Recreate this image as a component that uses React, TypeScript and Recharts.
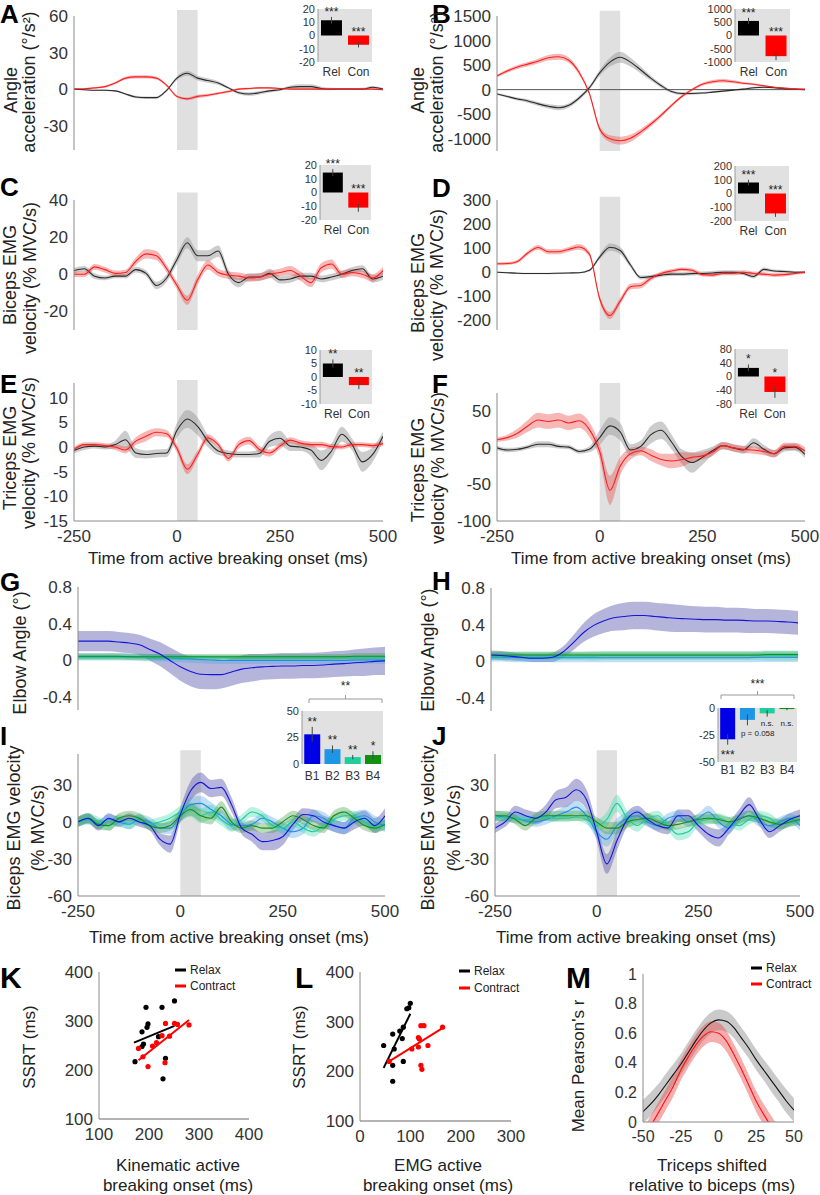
import React from 'react';
import {
  ComposedChart, BarChart, Bar, Line, Area, Scatter, XAxis, YAxis, CartesianGrid,
  ReferenceArea, ReferenceLine, ErrorBar, LabelList, Cell,
} from 'recharts';

const FONT = '"Liberation Sans", Arial, Helvetica, sans-serif';

// time base (ms) shared by panels A-J
const T = [-250, -225, -200, -175, -150, -125, -100, -75, -50, -25, 0, 25, 50, 75, 100, 125, 150, 175, 200, 225, 250, 275, 300, 325, 350, 375, 400, 425, 450, 475, 500];

// A: angle acceleration
const A_REL = [0, -0.5, -1, -1, -1.5, -4, -6.5, -7, -7, -1, 9, 13, 9, 7, 5, 1, -3, -4, -3, -1.5, -0.5, 1.5, 2, 2, 0.5, 0, 0, 0, 0, 1.5, 0];
const A_REL_SD = [0.5, 0.5, 0.5, 0.6, 0.6, 0.8, 1, 1, 1, 1, 1.5, 2, 2, 1.8, 1.5, 1.2, 1.2, 1.5, 1.5, 1.2, 1, 1.5, 2, 2, 1.5, 1, 0.8, 0.8, 1, 1, 0.8];
const A_CON = [0, 0.3, 1, 2, 5, 9, 10, 10, 9, 3, -6, -8, -6, -5, -3.5, -2, 0, 0.5, 1, 1, 0.5, 0, 0, 0, 0, 0, 0, 0, 0, 0, -0.5];
const A_CON_SD = [0.5, 0.5, 0.6, 0.8, 1, 1.2, 1.3, 1.3, 1.2, 1, 1, 1.2, 1.3, 1.2, 1, 1, 0.8, 0.8, 0.8, 0.8, 0.6, 0.6, 0.6, 0.6, 0.5, 0.5, 0.5, 0.5, 0.5, 0.5, 0.5];

// B
const B_REL = [-90, -140, -190, -230, -290, -340, -370, -320, -170, 40, 340, 560, 660, 560, 400, 230, 80, -40, -80, -80, -70, -50, -30, -10, 10, 40, 50, 40, 20, 10, 0];
const B_REL_SD = [20, 25, 30, 35, 40, 45, 50, 45, 40, 40, 60, 90, 110, 90, 70, 50, 40, 30, 30, 25, 20, 20, 20, 20, 20, 20, 20, 15, 15, 10, 10];
const B_CON = [280, 380, 460, 520, 580, 650, 670, 600, 350, -80, -800, -1000, -1040, -990, -860, -700, -520, -320, -140, 0, 110, 160, 180, 160, 130, 110, 80, 50, 30, 15, 10];
const B_CON_SD = [30, 35, 40, 45, 50, 55, 60, 55, 45, 40, 60, 70, 80, 75, 60, 50, 40, 35, 30, 30, 30, 35, 35, 30, 25, 20, 20, 15, 15, 10, 10];

// C
const C_REL = [2, 3, -1, -2, -1, -1, 2.5, 0.5, -6, -2, 8, 17, 10, 10, 12.5, 0, -4.5, -1.5, -1.5, 0.5, -3, -2.5, -1, -1, -2.5, -1.5, 0, 2, 3, -2.5, -1];
const C_REL_SD = [1.5, 1.5, 1.5, 1.2, 1.2, 1.2, 1.5, 1.5, 2, 2, 2.5, 3, 3, 3, 3, 2.5, 2.5, 2, 2, 2.5, 2, 2, 1.8, 1.8, 1.8, 1.8, 1.8, 1.8, 1.8, 2, 2];
const C_CON = [0, 0, 4, 2.5, 0.5, 1, 7, 11, 10, 3, -6, -14, -3, 5, 1, -0.5, -1, -2, -1.5, 0, 1, 2, -1, -4.5, 3.5, 5.5, 0, 1, 0, -2, 2];
const C_CON_SD = [1.5, 1.5, 1.5, 1.5, 1.5, 1.5, 2, 2.5, 2.5, 2, 2, 2.5, 2.5, 2.5, 2, 2, 2, 2, 2, 2, 2, 2.5, 2.5, 2.5, 2.5, 2.5, 2, 2, 2, 2, 2];

// D
const D_REL = [0, -2, -4, -5, -5, -5, -4, -3, -2, 8, 63, 104, 90, 30, -22, -18, -12, -8, -8, -6, -5, -3, 0, 0, -5, -18, 12, 5, 3, 0, 0];
const D_REL_SD = [3, 3, 3, 3, 3, 3, 3, 3, 3, 5, 10, 15, 15, 10, 8, 8, 8, 8, 8, 8, 8, 8, 8, 8, 8, 8, 8, 6, 6, 5, 5];
const D_CON = [35, 36, 45, 80, 103, 85, 85, 95, 105, 75, -110, -180, -120, -60, -55, -25, -5, 5, 12, 8, -10, -12, -5, -5, 0, -5, -8, -12, -10, -5, 0];
const D_CON_SD = [6, 6, 7, 8, 10, 10, 10, 10, 12, 10, 12, 15, 14, 12, 12, 10, 8, 8, 8, 8, 8, 8, 8, 8, 8, 8, 8, 8, 8, 6, 6];

// E
const E_REL = [-0.7, 0, 0.2, 0, 0.5, 1.5, -1.2, -1.5, -1.3, -1.2, 3.4, 5.7, 4.2, 1.2, -0.8, -1.3, -1.5, -1.5, -1.3, 1.2, 1.8, 0.2, 0, -0.6, -2.7, -0.8, 2.6, 0.5, -3, -1.5, 2.2];
const E_REL_SD = [0.6, 0.6, 0.5, 0.5, 0.8, 1.8, 1, 0.8, 0.8, 0.8, 1.5, 1.8, 1.8, 1.2, 0.8, 0.6, 0.6, 0.6, 0.8, 1.2, 1.5, 1, 0.8, 1.2, 2, 1.5, 1.5, 1.2, 2, 1.5, 1];
const E_CON = [-0.5, 0.5, 0.5, 0.3, 0, -0.6, 1.2, 2.2, 3, 2.7, -0.3, -4.5, -1.5, 1.9, 0.5, -2.3, 0.5, 1.3, -0.5, -1.2, 0.2, 1.4, 0.8, 0.5, 0.5, 0.1, 0, 0.5, 0.5, 0.3, 0.7];
const E_CON_SD = [0.5, 0.5, 0.5, 0.5, 0.6, 0.7, 0.8, 1, 0.8, 0.7, 0.8, 1, 0.8, 0.7, 0.6, 0.7, 0.8, 0.8, 0.7, 0.7, 0.6, 0.6, 0.6, 0.6, 0.6, 0.5, 0.5, 0.5, 0.5, 0.5, 0.5];

// F
const F_REL = [0, -3, -2, 1, 5, 5, 2, 1, -5, -2, 14, 30, 22, -3, 2, 18, 24, 8, -12, -20, -13, -4, 3, 0, -3, 7, -2, -8, 0, 1, -9];
const F_REL_SD = [3, 3, 3, 3, 4, 4, 3, 3, 3, 4, 10, 12, 12, 8, 8, 12, 12, 10, 10, 14, 10, 6, 5, 5, 5, 6, 6, 5, 5, 5, 5];
const F_CON = [11, 14, 20, 30, 38, 36, 38, 34, 37, 25, -5, -58, -25, -8, -4, -10, -16, -18, -16, -13, -11, -6, 3, 0, -2, -3, -5, -8, 2, 2, -4];
const F_CON_SD = [3, 4, 6, 8, 10, 10, 10, 10, 10, 10, 10, 20, 12, 8, 6, 8, 8, 10, 10, 6, 5, 5, 5, 5, 5, 5, 5, 5, 5, 5, 5];

// G: elbow angle per block (relax)
const G_B1 = [0.21, 0.21, 0.21, 0.21, 0.2, 0.19, 0.17, 0.12, 0.07, 0, -0.07, -0.12, -0.15, -0.155, -0.155, -0.125, -0.095, -0.08, -0.07, -0.065, -0.06, -0.06, -0.055, -0.055, -0.05, -0.04, -0.035, -0.025, -0.02, -0.01, -0.005];
const G_B1_SD = [0.11, 0.11, 0.11, 0.11, 0.11, 0.11, 0.11, 0.12, 0.13, 0.14, 0.15, 0.16, 0.16, 0.16, 0.15, 0.15, 0.15, 0.15, 0.14, 0.14, 0.14, 0.14, 0.14, 0.14, 0.14, 0.14, 0.14, 0.145, 0.15, 0.15, 0.155];
const G_B2 = [0.04, 0.04, 0.04, 0.04, 0.04, 0.04, 0.035, 0.03, 0.03, 0.025, 0.02, 0.015, 0.01, 0.005, 0, 0, 0, 0, 0, 0, 0, 0, 0, 0, 0, 0, 0, 0.005, 0.005, 0.005, 0.005];
const G_B2_SD = [0.04, 0.04, 0.04, 0.04, 0.04, 0.04, 0.04, 0.04, 0.04, 0.04, 0.04, 0.04, 0.04, 0.04, 0.04, 0.04, 0.04, 0.04, 0.04, 0.04, 0.04, 0.04, 0.04, 0.04, 0.04, 0.04, 0.04, 0.04, 0.04, 0.04, 0.04];
const G_B3 = [0.035, 0.035, 0.035, 0.035, 0.035, 0.035, 0.035, 0.03, 0.03, 0.03, 0.03, 0.03, 0.03, 0.03, 0.03, 0.03, 0.03, 0.03, 0.03, 0.03, 0.03, 0.03, 0.03, 0.03, 0.03, 0.03, 0.03, 0.03, 0.03, 0.03, 0.03];
const G_B3_SD = [0.03, 0.03, 0.03, 0.03, 0.03, 0.03, 0.03, 0.03, 0.03, 0.03, 0.03, 0.03, 0.03, 0.03, 0.03, 0.03, 0.03, 0.03, 0.03, 0.03, 0.03, 0.03, 0.03, 0.03, 0.03, 0.03, 0.03, 0.03, 0.03, 0.03, 0.03];
const G_B4 = [0.045, 0.045, 0.045, 0.045, 0.045, 0.04, 0.04, 0.04, 0.04, 0.04, 0.04, 0.04, 0.04, 0.04, 0.04, 0.04, 0.04, 0.04, 0.04, 0.04, 0.04, 0.04, 0.04, 0.04, 0.04, 0.04, 0.04, 0.045, 0.045, 0.045, 0.045];
const G_B4_SD = [0.03, 0.03, 0.03, 0.03, 0.03, 0.03, 0.03, 0.03, 0.03, 0.03, 0.03, 0.03, 0.03, 0.03, 0.03, 0.03, 0.03, 0.03, 0.03, 0.03, 0.03, 0.03, 0.03, 0.03, 0.03, 0.03, 0.03, 0.035, 0.035, 0.035, 0.035];

// H: elbow angle per block (contract)
const H_B1 = [0.07, 0.065, 0.055, 0.045, 0.035, 0.035, 0.045, 0.1, 0.2, 0.31, 0.39, 0.44, 0.475, 0.49, 0.5, 0.5, 0.49, 0.48, 0.47, 0.465, 0.46, 0.455, 0.455, 0.45, 0.45, 0.445, 0.44, 0.44, 0.435, 0.43, 0.42];
const H_B1_SD = [0.05, 0.05, 0.045, 0.04, 0.04, 0.04, 0.05, 0.06, 0.08, 0.1, 0.12, 0.13, 0.14, 0.15, 0.15, 0.15, 0.15, 0.15, 0.15, 0.145, 0.14, 0.14, 0.14, 0.135, 0.135, 0.135, 0.13, 0.13, 0.13, 0.13, 0.13];
const H_B2 = [0.05, 0.05, 0.045, 0.04, 0.04, 0.04, 0.04, 0.04, 0.04, 0.04, 0.04, 0.04, 0.04, 0.04, 0.04, 0.04, 0.04, 0.04, 0.04, 0.04, 0.04, 0.04, 0.04, 0.04, 0.04, 0.04, 0.045, 0.045, 0.045, 0.045, 0.045];
const H_B2_SD = [0.05, 0.05, 0.05, 0.05, 0.05, 0.05, 0.05, 0.05, 0.05, 0.05, 0.05, 0.05, 0.05, 0.05, 0.05, 0.05, 0.05, 0.05, 0.05, 0.05, 0.05, 0.05, 0.05, 0.05, 0.05, 0.05, 0.05, 0.05, 0.05, 0.05, 0.05];
const H_B3 = [0.06, 0.06, 0.06, 0.06, 0.06, 0.06, 0.06, 0.06, 0.06, 0.06, 0.06, 0.065, 0.065, 0.065, 0.065, 0.065, 0.065, 0.065, 0.065, 0.065, 0.065, 0.065, 0.065, 0.065, 0.065, 0.065, 0.065, 0.065, 0.065, 0.065, 0.065];
const H_B3_SD = [0.045, 0.045, 0.045, 0.045, 0.045, 0.045, 0.045, 0.045, 0.045, 0.045, 0.05, 0.05, 0.05, 0.05, 0.05, 0.05, 0.05, 0.05, 0.05, 0.05, 0.05, 0.05, 0.05, 0.05, 0.05, 0.05, 0.05, 0.055, 0.055, 0.055, 0.055];
const H_B4 = [0.07, 0.07, 0.07, 0.07, 0.07, 0.07, 0.07, 0.07, 0.07, 0.07, 0.07, 0.07, 0.07, 0.07, 0.07, 0.07, 0.07, 0.07, 0.07, 0.07, 0.07, 0.07, 0.07, 0.07, 0.07, 0.07, 0.07, 0.075, 0.075, 0.075, 0.075];
const H_B4_SD = [0.035, 0.035, 0.035, 0.035, 0.035, 0.035, 0.035, 0.035, 0.035, 0.035, 0.035, 0.035, 0.035, 0.035, 0.035, 0.035, 0.035, 0.035, 0.035, 0.035, 0.035, 0.035, 0.035, 0.035, 0.035, 0.035, 0.035, 0.035, 0.035, 0.035, 0.035];

// I: biceps EMG velocity per block (relax)
const I_B1 = [0, 3, -3, 3, 0, 3, 0, -3, -14, -18, 6, 25, 32, 27, 28, 14, -5, -10, -16, -15, -12, -2, 6, 5, 0, -3, -5, 0, 3, -3, 5];
const I_B1_SD = [4, 4, 4, 4, 4, 4, 4, 4, 5, 7, 6, 8, 8, 7, 7, 6, 5, 6, 7, 8, 7, 5, 5, 5, 5, 5, 5, 6, 6, 6, 6];
const I_B2 = [0, 2, -2, 2, 0, -2, 2, 0, -5, -5, 5, 14, 15, 10, 5, -2, -3, -2, 3, 0, -5, -8, -5, 5, 3, -3, -5, 3, 5, 0, -3];
const I_B2_SD = [4, 4, 4, 4, 4, 4, 4, 4, 4, 5, 5, 6, 6, 6, 5, 5, 4, 4, 4, 4, 5, 5, 5, 5, 5, 5, 5, 5, 5, 5, 5];
const I_B3 = [0, 3, 0, -3, 2, -2, 3, -2, 0, 3, 8, 10, 5, 8, 2, -3, 2, 8, 5, -3, -5, 0, -5, -8, -3, 2, 5, 5, 0, -4, -3];
const I_B3_SD = [4, 4, 4, 4, 4, 4, 4, 4, 4, 4, 5, 6, 6, 6, 5, 5, 4, 4, 4, 4, 4, 4, 4, 4, 4, 4, 4, 4, 4, 4, 4];
const I_B4 = [0, 3, -2, -3, 3, 5, 3, -3, -5, -3, 5, 10, 5, 3, 12, 0, -5, -3, -5, -5, 0, 5, 2, -3, -5, 5, 8, 3, -3, -5, -2];
const I_B4_SD = [4, 4, 4, 4, 4, 4, 4, 4, 4, 4, 5, 5, 5, 5, 5, 5, 4, 4, 4, 4, 4, 4, 4, 4, 4, 4, 4, 4, 4, 4, 4];

// J: biceps EMG velocity per block (contract)
const J_B1 = [-5, 0, 8, 5, 3, 8, 18, 20, 26, 18, -8, -34, -15, 2, 8, 2, -3, -5, 5, 5, -3, -10, -13, -5, 5, 14, 2, -8, -3, 2, 5];
const J_B1_SD = [4, 4, 5, 5, 5, 6, 7, 8, 9, 8, 7, 8, 8, 6, 5, 5, 5, 5, 5, 5, 5, 6, 7, 5, 5, 6, 5, 5, 5, 5, 5];
const J_B2 = [5, 4, 3, 1, 0, 2, 5, 8, 12, 5, -8, -14, -3, 3, 5, 0, -3, 3, 5, 0, 3, 8, 0, -5, 3, 5, 0, -3, 0, 3, -3];
const J_B2_SD = [4, 4, 4, 4, 4, 4, 4, 5, 5, 5, 5, 6, 6, 5, 5, 4, 4, 4, 4, 4, 4, 5, 5, 5, 4, 4, 4, 4, 4, 4, 4];
const J_B3 = [3, 4, 3, 2, 3, 4, 3, 3, 4, 2, -3, 2, 15, 3, -3, 3, 5, -3, -10, -8, 0, 2, 3, 0, -3, 2, 5, 3, -2, 0, 2];
const J_B3_SD = [3, 3, 3, 3, 3, 3, 3, 3, 3, 4, 5, 6, 7, 6, 5, 4, 4, 4, 5, 5, 4, 4, 4, 4, 4, 4, 4, 4, 4, 4, 4];
const J_B4 = [5, 5, 2, -3, 3, 5, 5, 5, 5, 5, 0, -5, -5, 0, 2, 3, 0, -3, -2, 0, 2, 3, 2, 0, 2, 5, 3, 0, -2, 0, 2];
const J_B4_SD = [4, 4, 4, 4, 4, 4, 4, 4, 4, 4, 4, 5, 5, 5, 4, 4, 4, 4, 4, 4, 4, 4, 4, 4, 4, 4, 4, 4, 4, 4, 4];

// insets
const RC_CATS = ['Rel', 'Con'];
const BLOCK_CATS = ['B1', 'B2', 'B3', 'B4'];
const INSET_A = [11.5, -7];
const INSET_A_ERR = [2.5, 2];
const INSET_B = [550, -780];
const INSET_B_ERR = [120, 150];
const INSET_C = [14.5, -11];
const INSET_C_ERR = [2.5, 3];
const INSET_D = [80, -145];
const INSET_D_ERR = [20, 25];
const INSET_E = [5, -3];
const INSET_E_ERR = [1.5, 1.5];
const INSET_F = [25, -45];
const INSET_F_ERR = [10, 17];
const INSET_G = [28, 14, 6.5, 8.5];
const INSET_G_ERR = [7, 3.5, 2, 3.5];
const INSET_H = [-29, -11, -5, -1];
const INSET_H_ERR = [5, 5, 3, 1];

// K, L: SSRT vs onset
const K_REL_X = [172, 194, 186, 189, 186, 198, 196, 226, 219, 233, 228, 251];
const K_REL_Y = [217, 328, 278, 253, 248, 294, 287, 328, 268, 224, 182, 341];
const K_CON_X = [179, 188, 198, 207, 215, 226, 232, 233, 241, 251, 257, 280];
const K_CON_Y = [244, 227, 207, 249, 256, 270, 215, 295, 269, 295, 293, 292];
const K_REL_FIT_X = [170, 251];
const K_REL_FIT_Y = [256, 290];
const K_CON_FIT_X = [179, 280];
const K_CON_FIT_Y = [220, 302];

const L_REL_X = [47, 65, 68, 65, 65, 79, 84, 86, 86, 93, 100, 97];
const L_REL_Y = [252, 275, 245, 212, 180, 281, 266, 220, 289, 326, 337, 328];
const L_CON_X = [58, 103, 116, 118, 121, 127, 116, 121, 123, 135, 164];
const L_CON_Y = [220, 245, 268, 265, 292, 292, 249, 212, 204, 252, 289];
const L_REL_FIT_X = [47, 100];
const L_REL_FIT_Y = [207, 316];
const L_CON_FIT_X = [58, 167];
const L_CON_FIT_Y = [220, 289];

// M: cross-correlation
const M_T = [-50, -45, -40, -35, -30, -25, -20, -15, -10, -5, 0, 5, 10, 15, 20, 25, 30, 35, 40, 45, 50];
const M_REL = [0.07, 0.12, 0.18, 0.25, 0.32, 0.39, 0.47, 0.55, 0.62, 0.67, 0.69, 0.68, 0.64, 0.57, 0.5, 0.42, 0.35, 0.28, 0.21, 0.14, 0.08];
const M_REL_SD = [0.08, 0.08, 0.075, 0.075, 0.07, 0.07, 0.07, 0.07, 0.07, 0.07, 0.07, 0.07, 0.07, 0.07, 0.07, 0.07, 0.07, 0.075, 0.075, 0.08, 0.08];
const M_CON = [-0.12, -0.03, 0.06, 0.15, 0.24, 0.35, 0.44, 0.52, 0.58, 0.61, 0.6, 0.55, 0.46, 0.36, 0.25, 0.14, 0.05, -0.03, -0.11, -0.19, -0.27];
const M_CON_SD = [0.07, 0.07, 0.07, 0.07, 0.07, 0.07, 0.07, 0.07, 0.07, 0.07, 0.07, 0.07, 0.07, 0.07, 0.07, 0.07, 0.07, 0.07, 0.07, 0.07, 0.07];

type Spec = { key: string; m: number[]; s: number[] };
type Series = { key: string; color: string; band: string; op: number };

function buildRows(xs: number[], specs: Spec[]) {
  return xs.map((t, i) => {
    const r: any = { t };
    specs.forEach(({ key, m, s }) => {
      r[key] = m[i];
      r[key + 'B'] = [m[i] - s[i], m[i] + s[i]];
    });
    return r;
  });
}

const RC_SERIES: Series[] = [
  { key: 'rel', color: '#2b2b2b', band: '#9a9a9a', op: 0.5 },
  { key: 'con', color: '#ff1f1f', band: '#e84a4a', op: 0.4 },
];
const BLOCK_SERIES: Series[] = [
  { key: 'b1', color: '#1414dc', band: '#5c5cb0', op: 0.45 },
  { key: 'b2', color: '#1e8fe6', band: '#4aa0e6', op: 0.35 },
  { key: 'b3', color: '#1ccc9c', band: '#3cd8a8', op: 0.35 },
  { key: 'b4', color: '#1a8c1a', band: '#3c9c3c', op: 0.35 },
];
const BLOCK_COLORS = ['#0000e6', '#1e96e6', '#1ecf9c', '#129012'];

const rc = (a: number[], as: number[], b: number[], bs: number[]) =>
  buildRows(T, [{ key: 'rel', m: a, s: as }, { key: 'con', m: b, s: bs }]);
const blocks = (m: number[][], s: number[][]) =>
  buildRows(T, m.map((mm, i) => ({ key: 'b' + (i + 1), m: mm, s: s[i] })));

interface TraceProps {
  left: number; right: number; top: number; bottom: number;
  yDomain: [number, number]; yTicks: number[];
  xDomain?: [number, number]; xTicks?: number[]; showX?: boolean;
  rows: any[]; series: Series[]; shadeTop?: number; zeroLine?: boolean; tickFont?: number;
}

function TracePanel(p: TraceProps) {
  const yw = 60, pt = 10, pr = 30, xh = 40;
  const w = p.right - p.left, h = p.bottom - p.top;
  const tf = p.tickFont ?? 17;
  const lineOrder = p.series.length > 2 ? [...p.series.slice(1), p.series[0]] : p.series;
  return (
    <div style={{ position: 'absolute', left: p.left - yw, top: p.top - pt }}>
      <ComposedChart width={yw + w + pr} height={pt + h + (p.showX ? xh : 2)} data={p.rows}
        margin={{ top: pt, right: pr, bottom: p.showX ? 0 : 2, left: 0 }}>
        <XAxis type="number" dataKey="t" domain={p.xDomain ?? [-250, 500]} ticks={p.xTicks ?? [-250, 0, 250, 500]}
          hide={!p.showX} height={xh} interval={0} allowDataOverflow axisLine={{ stroke: '#8a8a8a' }}
          tickLine={false} tickSize={0} tickMargin={9} tick={{ fontSize: tf, fill: '#333' }} />
        <YAxis type="number" domain={p.yDomain} ticks={p.yTicks} width={yw} interval={0} allowDataOverflow
          axisLine={{ stroke: '#8a8a8a' }} tickLine={false} tickSize={0} tickMargin={6} tick={{ fontSize: tf, fill: '#333' }} />
        {p.shadeTop !== undefined && (
          <ReferenceArea x1={0} x2={50} y1={p.yDomain[0]} y2={p.shadeTop} ifOverflow="visible"
            fill="#e0e0e0" fillOpacity={1} stroke="none" />
        )}
        {p.zeroLine && <ReferenceLine y={0} stroke="#555" strokeWidth={1} />}
        {p.series.map((s) => (
          <Area key={s.key + 'B'} type="monotone" dataKey={s.key + 'B'} stroke="none" fill={s.band}
            fillOpacity={s.op} isAnimationActive={false} activeDot={false} />
        ))}
        {lineOrder.map((s) => (
          <Line key={s.key} type="monotone" dataKey={s.key} stroke={s.color} strokeWidth={1.1}
            dot={false} activeDot={false} isAnimationActive={false} />
        ))}
      </ComposedChart>
    </div>
  );
}

interface InsetProps {
  left: number; right: number; top: number; bottom: number;
  cats: string[]; vals: number[]; errs: number[]; marks: string[]; colors: string[];
  domain: [number, number]; ticks: number[]; mode?: 'above' | 'below';
  markDy?: number[]; markSize?: number[]; markStart?: boolean[]; tickGap?: number;
}

function Inset(p: InsetProps) {
  const padL = 34, padT = 16, padB = 22;
  const w = p.right - p.left, h = p.bottom - p.top;
  const rows = p.cats.map((k, i) => ({ k, v: p.vals[i], e: p.errs[i], m: p.marks[i], i }));
  const yPix = (v: number) => padT + ((p.domain[1] - v) / (p.domain[1] - p.domain[0])) * h;
  const renderMark = (lp: any) => {
    const r = rows.find((d) => d.k === lp.value);
    if (!r || !r.m) return null;
    const start = p.markStart ? p.markStart[r.i] : false;
    const cx = start ? Number(lp.x) + 1 : Number(lp.x) + Number(lp.width) / 2;
    const size = p.markSize ? p.markSize[r.i] : 12;
    let y: number;
    if (p.mode === 'below') {
      y = yPix(r.v - r.e) + (p.markDy ? p.markDy[r.i] : 10);
    } else {
      y = r.v >= 0 ? yPix(r.v + r.e) - 1 : yPix(0);
    }
    return (
      <text key={r.k} x={cx} y={y} textAnchor={start ? 'start' : 'middle'} fontSize={size} fill="#222">{r.m}</text>
    );
  };
  return (
    <div style={{ position: 'absolute', left: p.left - padL, top: p.top - padT }}>
      <BarChart width={padL + w + 2} height={padT + h + padB} data={rows}
        margin={{ top: padT, right: 2, bottom: 0, left: 0 }} barCategoryGap="11%">
        <CartesianGrid fill="#e1e1e1" stroke="none" horizontal={false} vertical={false} />
        <XAxis dataKey="k" height={padB} axisLine={false} tickLine={false} tickSize={0}
          tickMargin={p.tickGap ?? 5} interval={0} tick={{ fontSize: 12, fill: '#333' }} />
        <YAxis type="number" domain={p.domain} ticks={p.ticks} width={padL} interval={0}
          axisLine={{ stroke: '#9a9a9a' }} tickLine={false} tickSize={0} tickMargin={3}
          tick={{ fontSize: 11, fill: '#333' }} />
        <Bar dataKey="v" isAnimationActive={false}>
          {rows.map((r, i) => <Cell key={r.k} fill={p.colors[i]} />)}
          <ErrorBar dataKey="e" width={0} stroke="#444" strokeWidth={1} direction="y" />
          <LabelList dataKey="k" content={renderMark} />
        </Bar>
      </BarChart>
    </div>
  );
}

const toPts = (xs: number[], ys: number[]) => xs.map((x, i) => ({ x, y: ys[i] }));

interface ScatterProps {
  left: number; right: number; top: number; bottom: number;
  xDomain: [number, number]; xTicks: number[];
  relX: number[]; relY: number[]; conX: number[]; conY: number[];
  relFitX: number[]; relFitY: number[]; conFitX: number[]; conFitY: number[];
}

function ScatterPanel(p: ScatterProps) {
  const yw = 60, pt = 10, pr = 25, xh = 40;
  const w = p.right - p.left, h = p.bottom - p.top;
  const dot = (c: string) => (sp: any) => <circle cx={sp.cx} cy={sp.cy} r={2.6} fill={c} />;
  return (
    <div style={{ position: 'absolute', left: p.left - yw, top: p.top - pt }}>
      <ComposedChart width={yw + w + pr} height={pt + h + xh} margin={{ top: pt, right: pr, bottom: 0, left: 0 }}>
        <XAxis type="number" dataKey="x" domain={p.xDomain} ticks={p.xTicks} interval={0} height={xh}
          axisLine={{ stroke: '#9a9a9a', strokeWidth: 1.5 }} tickLine={false} tickSize={0} tickMargin={9}
          tick={{ fontSize: 17, fill: '#333' }} />
        <YAxis type="number" dataKey="y" domain={[100, 400]} ticks={[100, 200, 300, 400]} width={yw} interval={0}
          axisLine={{ stroke: '#8a8a8a' }} tickLine={false} tickSize={0} tickMargin={6}
          tick={{ fontSize: 17, fill: '#333' }} />
        <Scatter data={toPts(p.relX, p.relY)} shape={dot('#000')} isAnimationActive={false} />
        <Scatter data={toPts(p.conX, p.conY)} shape={dot('#ff0000')} isAnimationActive={false} />
        <Line data={toPts(p.relFitX, p.relFitY)} dataKey="y" stroke="#000" strokeWidth={2}
          dot={false} activeDot={false} isAnimationActive={false} />
        <Line data={toPts(p.conFitX, p.conFitY)} dataKey="y" stroke="#ff0000" strokeWidth={2}
          dot={false} activeDot={false} isAnimationActive={false} />
      </ComposedChart>
    </div>
  );
}

const VL = ({ x, y, s, size = 18 }: { x: number; y: number; s: string; size?: number }) => (
  <text x={x} y={y} transform={`rotate(-90 ${x} ${y})`} textAnchor="middle" dominantBaseline="central"
    fontSize={size} fill="#222">{s}</text>
);
const HL = ({ x, y, s, size = 17 }: { x: number; y: number; s: string; size?: number }) => (
  <text x={x} y={y} textAnchor="middle" dominantBaseline="central" fontSize={size} fill="#222">{s}</text>
);
const Letter = ({ x, y, s, size = 26 }: { x: number; y: number; s: string; size?: number }) => (
  <text x={x} y={y} fontSize={size} fontWeight="bold" fill="#000">{s}</text>
);
const Legend2 = ({ x, y1, y2 }: { x: number; y1: number; y2: number }) => (
  <g>
    <line x1={x} x2={x + 11} y1={y1} y2={y1} stroke="#000" strokeWidth={3} />
    <text x={x + 15} y={y1} dominantBaseline="central" fontSize={12} fill="#222">Relax</text>
    <line x1={x} x2={x + 11} y1={y2} y2={y2} stroke="#ff0000" strokeWidth={3} />
    <text x={x + 15} y={y2} dominantBaseline="central" fontSize={12} fill="#222">Contract</text>
  </g>
);

function Overlay() {
  return (
    <svg width={820} height={1195} style={{ position: 'absolute', left: 0, top: 0, pointerEvents: 'none' }}>
      <Letter x={0} y={23} s="A" />
      <Letter x={432} y={23} s="B" />
      <Letter x={0} y={196} s="C" />
      <Letter x={432} y={197} s="D" />
      <Letter x={0} y={393} s="E" />
      <Letter x={432} y={393} s="F" />
      <Letter x={0} y={591} s="G" />
      <Letter x={432} y={590} s="H" />
      <Letter x={0} y={745} s="I" />
      <Letter x={432} y={745} s="J" />
      <Letter x={0} y={988} s="K" size={30} />
      <Letter x={295} y={988} s="L" size={30} />
      <Letter x={566} y={988} s="M" size={30} />

      <VL x={11} y={90} s="Angle" />
      <VL x={29} y={82} s="acceleration (°/s²)" />
      <VL x={418} y={90} s="Angle" />
      <VL x={437} y={82} s="acceleration (°/s²)" />
      <VL x={10} y={275} s="Biceps EMG" />
      <VL x={30} y={278} s="velocity (% MVC/s)" />
      <VL x={418} y={283} s="Biceps EMG" />
      <VL x={437} y={285} s="velocity (% MVC/s)" />
      <VL x={10} y={458} s="Triceps EMG" />
      <VL x={29} y={453} s="velocity (% MVC/s)" />
      <VL x={418} y={470} s="Triceps EMG" />
      <VL x={438} y={468} s="velocity (% MVC/s)" />
      <VL x={20} y={653} s="Elbow Angle (°)" />
      <VL x={428} y={650} s="Elbow Angle (°)" />
      <VL x={14} y={828} s="Biceps EMG velocity" />
      <VL x={38} y={828} s="(% MVC/s)" />
      <VL x={428} y={828} s="Biceps EMG velocity" />
      <VL x={454} y={828} s="(% MVC/s)" />
      <VL x={29} y={1047} s="SSRT (ms)" size={17} />
      <VL x={299} y={1047} s="SSRT (ms)" size={17} />
      <VL x={578} y={1066} s="Mean Pearson's r" size={17} />

      <HL x={228} y={558} s="Time from active breaking onset (ms)" />
      <HL x={651} y={558} s="Time from active breaking onset (ms)" />
      <HL x={229} y={937} s="Time from active breaking onset (ms)" />
      <HL x={636} y={937} s="Time from active breaking onset (ms)" />
      <HL x={178} y={1165} s="Kinematic active" />
      <HL x={178} y={1185} s="breaking onset (ms)" />
      <HL x={438} y={1165} s="EMG active" />
      <HL x={438} y={1185} s="breaking onset (ms)" />
      <HL x={712} y={1165} s="Triceps shifted" />
      <HL x={712} y={1185} s="relative to biceps (ms)" />

      <Legend2 x={175} y1={970} y2={986} />
      <Legend2 x={459} y1={971} y2={988} />
      <Legend2 x={751} y1={968} y2={984} />

      <path d="M309 703 V699 H382 V703 M345.5 699 V695" stroke="#999" fill="none" strokeWidth={1} />
      <text x={345.5} y={690} textAnchor="middle" fontSize={12} fill="#222">**</text>
      <path d="M721 699 V695 H794 V699 M757.5 695 V691" stroke="#999" fill="none" strokeWidth={1} />
      <text x={757.5} y={688} textAnchor="middle" fontSize={12} fill="#222">***</text>
    </svg>
  );
}

export default function App() {
  const rowsA = rc(A_REL, A_REL_SD, A_CON, A_CON_SD);
  const rowsB = rc(B_REL, B_REL_SD, B_CON, B_CON_SD);
  const rowsC = rc(C_REL, C_REL_SD, C_CON, C_CON_SD);
  const rowsD = rc(D_REL, D_REL_SD, D_CON, D_CON_SD);
  const rowsE = rc(E_REL, E_REL_SD, E_CON, E_CON_SD);
  const rowsF = rc(F_REL, F_REL_SD, F_CON, F_CON_SD);
  const rowsG = blocks([G_B1, G_B2, G_B3, G_B4], [G_B1_SD, G_B2_SD, G_B3_SD, G_B4_SD]);
  const rowsH = blocks([H_B1, H_B2, H_B3, H_B4], [H_B1_SD, H_B2_SD, H_B3_SD, H_B4_SD]);
  const rowsI = blocks([I_B1, I_B2, I_B3, I_B4], [I_B1_SD, I_B2_SD, I_B3_SD, I_B4_SD]);
  const rowsJ = blocks([J_B1, J_B2, J_B3, J_B4], [J_B1_SD, J_B2_SD, J_B3_SD, J_B4_SD]);
  const rowsM = buildRows(M_T, [{ key: 'rel', m: M_REL, s: M_REL_SD }, { key: 'con', m: M_CON, s: M_CON_SD }]);
  const rcColors = ['#000000', '#ff0000'];

  return (
    <div style={{ position: 'absolute', left: 0, top: 0, width: 820, height: 1195, background: '#fff', overflow: 'hidden', fontFamily: FONT }}>
      <TracePanel left={74} right={383} top={16} bottom={150} yDomain={[-50, 60]} yTicks={[-30, 0, 30, 60]} rows={rowsA} series={RC_SERIES} shadeTop={65} />
      <TracePanel left={497} right={805} top={16} bottom={151} yDomain={[-1250, 1500]} yTicks={[-1000, -500, 0, 500, 1000, 1500]} rows={rowsB} series={RC_SERIES} shadeTop={1608} zeroLine />
      <TracePanel left={74} right={383} top={200} bottom={330} yDomain={[-30, 40]} yTicks={[-20, 0, 20, 40]} rows={rowsC} series={RC_SERIES} shadeTop={44} />
      <TracePanel left={497} right={805} top={200} bottom={330} yDomain={[-240, 300]} yTicks={[-200, -100, 0, 100, 200, 300]} rows={rowsD} series={RC_SERIES} shadeTop={314} />
      <TracePanel left={74} right={383} top={383} bottom={521} yDomain={[-15, 13]} yTicks={[-15, -10, -5, 0, 5, 10]} rows={rowsE} series={RC_SERIES} shadeTop={13.6} showX />
      <TracePanel left={497} right={805} top={393} bottom={521} yDomain={[-100, 75]} yTicks={[-100, -50, 0, 50]} rows={rowsF} series={RC_SERIES} shadeTop={90} showX />
      <TracePanel left={78} right={385} top={587} bottom={710} yDomain={[-0.54, 0.8]} yTicks={[-0.4, 0, 0.4, 0.8]} rows={rowsG} series={BLOCK_SERIES} />
      <TracePanel left={491} right={798} top={588} bottom={711} yDomain={[-0.54, 0.8]} yTicks={[-0.4, 0, 0.4, 0.8]} rows={rowsH} series={BLOCK_SERIES} />
      <TracePanel left={78} right={385} top={754} bottom={896} yDomain={[-60, 55]} yTicks={[-60, -30, 0, 30]} rows={rowsI} series={BLOCK_SERIES} shadeTop={58} showX />
      <TracePanel left={495} right={800} top={754} bottom={896} yDomain={[-60, 55]} yTicks={[-60, -30, 0, 30]} rows={rowsJ} series={BLOCK_SERIES} shadeTop={58} showX />

      <Inset left={318} right={372} top={9} bottom={62} cats={RC_CATS} vals={INSET_A} errs={INSET_A_ERR} marks={['***', '***']} colors={rcColors} domain={[-20, 20]} ticks={[-20, -10, 0, 10, 20]} />
      <Inset left={735} right={790} top={9} bottom={62} cats={RC_CATS} vals={INSET_B} errs={INSET_B_ERR} marks={['***', '***']} colors={rcColors} domain={[-1000, 1000]} ticks={[-1000, -500, 0, 500, 1000]} />
      <Inset left={320} right={371} top={165} bottom={220} cats={RC_CATS} vals={INSET_C} errs={INSET_C_ERR} marks={['***', '***']} colors={rcColors} domain={[-20, 20]} ticks={[-20, -10, 0, 10, 20]} />
      <Inset left={735} right={789} top={166} bottom={221} cats={RC_CATS} vals={INSET_D} errs={INSET_D_ERR} marks={['***', '***']} colors={rcColors} domain={[-200, 200]} ticks={[-200, -100, 0, 100, 200]} />
      <Inset left={320} right={372} top={350} bottom={404} cats={RC_CATS} vals={INSET_E} errs={INSET_E_ERR} marks={['**', '**']} colors={rcColors} domain={[-10, 10]} ticks={[-10, -5, 0, 5, 10]} />
      <Inset left={735} right={788} top={349} bottom={404} cats={RC_CATS} vals={INSET_F} errs={INSET_F_ERR} marks={['*', '*']} colors={rcColors} domain={[-80, 80]} ticks={[-80, -40, 0, 40, 80]} />
      <Inset left={302} right={383} top={711} bottom={764} cats={BLOCK_CATS} vals={INSET_G} errs={INSET_G_ERR} marks={['**', '**', '**', '*']} colors={BLOCK_COLORS} domain={[0, 50]} ticks={[0, 25, 50]} tickGap={7} />
      <Inset left={718} right={797} top={708} bottom={762} cats={BLOCK_CATS} vals={INSET_H} errs={INSET_H_ERR} marks={['***', 'p = 0.058', 'n.s.', 'n.s.']} colors={BLOCK_COLORS} domain={[-50, 0]} ticks={[-50, -25, 0]} mode="below" markDy={[14, 11, 9, 16]} markSize={[12, 8, 8, 8]} markStart={[false, true, false, false]} tickGap={3} />

      <ScatterPanel left={99} right={249} top={972} bottom={1119} xDomain={[100, 400]} xTicks={[100, 200, 300, 400]}
        relX={K_REL_X} relY={K_REL_Y} conX={K_CON_X} conY={K_CON_Y}
        relFitX={K_REL_FIT_X} relFitY={K_REL_FIT_Y} conFitX={K_CON_FIT_X} conFitY={K_CON_FIT_Y} />
      <ScatterPanel left={360} right={511} top={972} bottom={1121} xDomain={[0, 300]} xTicks={[0, 100, 200, 300]}
        relX={L_REL_X} relY={L_REL_Y} conX={L_CON_X} conY={L_CON_Y}
        relFitX={L_REL_FIT_X} relFitY={L_REL_FIT_Y} conFitX={L_CON_FIT_X} conFitY={L_CON_FIT_Y} />
      <TracePanel left={643} right={794} top={974} bottom={1122} yDomain={[0, 1]} yTicks={[0, 0.2, 0.4, 0.6, 0.8, 1]}
        xDomain={[-50, 50]} xTicks={[-50, -25, 0, 25, 50]} rows={rowsM}
        series={[{ key: 'rel', color: '#111', band: '#8a8a8a', op: 0.45 }, { key: 'con', color: '#ff1010', band: '#e84a4a', op: 0.45 }]}
        showX tickFont={16} />

      <Overlay />
    </div>
  );
}
